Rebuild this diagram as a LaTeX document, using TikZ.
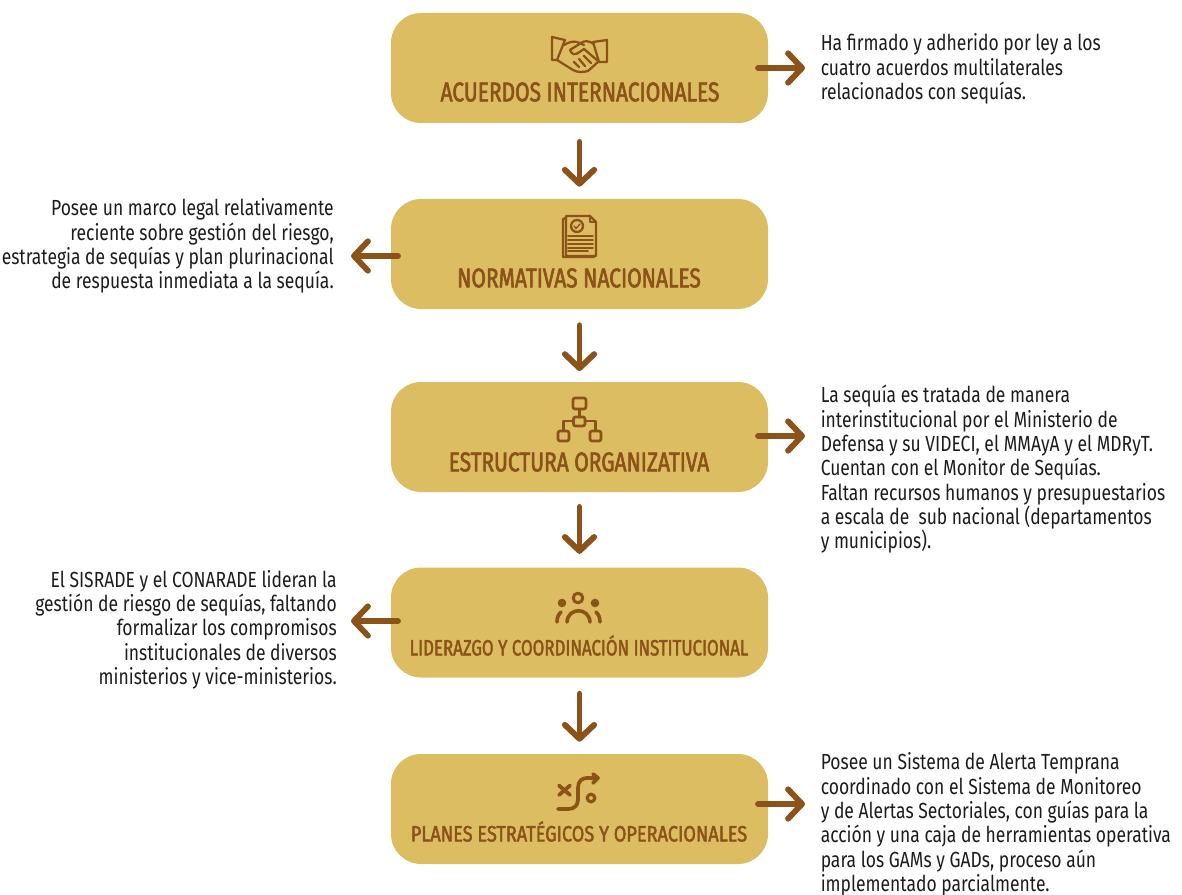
\documentclass[tikz,border=0pt]{standalone}
\usepackage{fontspec}
\usetikzlibrary{arrows.meta}
\setmainfont{Fira Sans}
\newfontfamily\titlefont[FakeStretch=0.77,FakeBold=2.2]{Fira Sans}
\newfontfamily\smalltitlefont[FakeStretch=0.763,FakeBold=2]{Fira Sans}
\newfontfamily\widetitlefont[FakeStretch=0.82,FakeBold=2]{Fira Sans}
\newfontfamily\bodyfont[FakeStretch=0.80]{Fira Sans}
\definecolor{gold}{HTML}{DDBD62}
\definecolor{brown}{HTML}{8B5319}
\definecolor{ink}{HTML}{1C1C1C}
\tikzset{
  panel/.style={fill=gold,draw=none,rounded corners=22.5pt,minimum width=282.75pt,minimum height=82.5pt,inner sep=0pt},
  paneltitle/.style={text=brown,font=\titlefont\fontsize{20.4pt}{22pt}\selectfont,inner sep=0pt},
  paneltitlesmall/.style={text=brown,font=\smalltitlefont\fontsize{16.6pt}{18pt}\selectfont,inner sep=0pt},
  paneltitlewide/.style={text=brown,font=\widetitlefont\fontsize{16.6pt}{18pt}\selectfont,inner sep=0pt},
  note/.style={text=ink,font=\bodyfont\fontsize{16.4pt}{18.25pt}\selectfont,inner sep=0pt},
  flow/.style={draw=brown,line width=4.4pt,line cap=round,-{Straight Barb[length=10.5pt,width=22pt,line width=4.4pt,round]}},
  icon/.style={draw=brown,line width=1.7pt,line join=round,line cap=round,fill=none},
  iconthin/.style={draw=brown,line width=1pt,line cap=round,fill=none},
}
\begin{document}
\begin{tikzpicture}[x=0.75pt,y=-0.75pt]
\useasboundingbox (0,0) rectangle (1182,895);
% panels
\node[panel] (p1) at (579.5,68) {};
\node[panel] (p2) at (579.5,254) {};
\node[panel] (p3) at (579.5,437) {};
\node[panel] (p4) at (579.5,622.5) {};
\node[panel] (p5) at (579.5,809) {};
% titles
\node[paneltitle] (t1) at (580,92) {ACUERDOS INTERNACIONALES};
\node[paneltitle] (t2) at (579,278) {NORMATIVAS NACIONALES};
\node[paneltitle] (t3) at (579,462) {ESTRUCTURA ORGANIZATIVA};
\node[paneltitlesmall] (t4) at (579,645.5) {LIDERAZGO Y COORDINACIÓN INSTITUCIONAL};
\node[paneltitlewide] (t5) at (579,831.5) {PLANES ESTRATÉGICOS Y OPERACIONALES};
% notes
\node[note,anchor=west,align=left] (n1) at (820.5,69) {Ha firmado y adherido por ley a los\\cuatro acuerdos multilaterales\\relacionados con sequías.};
\node[note,anchor=east,align=right] (n2) at (334,246) {Posee un marco legal relativamente\\reciente sobre gestión del riesgo,\\estrategia de sequías y plan plurinacional\\de respuesta inmediata a la sequía.};
\node[note,anchor=west,align=left] (n3) at (820.5,469.5) {La sequía es tratada de manera\\interinstitucional por el Ministerio de\\Defensa y su VIDECI, el MMAyA y el MDRyT.\\Cuentan con el Monitor de Sequías.\\Faltan recursos humanos y presupuestarios\\a escala de\ \ sub nacional (departamentos\\y municipios).};
\node[note,anchor=east,align=right] (n4) at (337,629.5) {El SISRADE y el CONARADE lideran la\\gestión de riesgo de sequías, faltando\\formalizar los compromisos\\institucionales de diversos\\ministerios y vice-ministerios.};
\node[note,anchor=west,align=left] (n5) at (820.5,824.5) {Posee un Sistema de Alerta Temprana\\coordinado con el Sistema de Monitoreo\\y de Alertas Sectoriales, con guías para la\\acción y una caja de herramientas operativa\\para los GAMs y GADs, proceso aún\\implementado parcialmente.};
% connector ends
\coordinate (a1s) at (758,68); \coordinate (a1e) at (805,68);
\coordinate (a2s) at (398,256); \coordinate (a2e) at (351,256);
\coordinate (a3s) at (758,436); \coordinate (a3e) at (805,436);
\coordinate (a4s) at (398,621); \coordinate (a4e) at (351,621);
\coordinate (a5s) at (758,804); \coordinate (a5e) at (805,804);
\draw[flow] (a1s) -- (a1e);
\draw[flow] (a2s) -- (a2e);
\draw[flow] (a3s) -- (a3e);
\draw[flow] (a4s) -- (a4e);
\draw[flow] (a5s) -- (a5e);
\draw[flow,shorten <=14pt,shorten >=9pt] (p1.south) -- (p2.north);
\draw[flow,shorten <=12pt,shorten >=8pt] (p2.south) -- (p3.north);
\draw[flow,shorten <=11pt,shorten >=10pt] (p3.south) -- (p4.north);
\draw[flow,shorten <=12pt,shorten >=9pt] (p4.south) -- (p5.north);
% handshake
\draw[icon] (552,37) -- (565,40) -- (557,60) -- (552,60) -- cycle;
\draw[icon] (607,40) -- (593,42) -- (599,62) -- (607,62) -- cycle;
\draw[icon] (564,45) .. controls (569,42) and (573,41) .. (577,42) -- (584,45);
\draw[icon] (594,44) .. controls (589,41) and (585,40) .. (581,43) -- (570,50) .. controls (572,55) and (575,55) .. (578,53) -- (584,49) -- (598,61);
\draw[icon] (557,60) -- (573,70) .. controls (578,73) and (584,72) .. (588,71) -- (598,62);
\draw[icon] (574,62) -- (579,67); \draw[icon] (579,59) -- (585,66); \draw[icon] (584,56) -- (591,63);
% document
\draw[icon] (566,216) -- (590,216) -- (596,222) -- (596,256) -- (566,256) -- cycle;
\draw[icon] (590,216) -- (590,222) -- (596,222);
\draw[icon] (566,218) -- (563,219) -- (563,257) -- (594,257);
\draw[icon] (577,226) circle (6);
\draw[iconthin] (574,226) -- (576,228.5) -- (580,224);
\foreach \yy/\xe in {236/593,240/593,244/593,248/593,251/588} \draw[iconthin,line width=1.2pt] (568,\yy) -- (\xe,\yy);
% org chart
\draw[icon,line width=2pt,rounded corners=1.5pt] (573,398) rectangle (586,409);
\draw[icon,line width=2pt,rounded corners=1.5pt] (573.5,417) rectangle (585,426);
\draw[icon,line width=2pt,rounded corners=1.5pt] (558,431) rectangle (569,441);
\draw[icon,line width=2pt,rounded corners=1.5pt] (590,431) rectangle (601,441);
\draw[icon,line width=2pt] (579.5,409) -- (579.5,417);
\draw[icon,line width=2pt] (573.5,421) -- (563.5,421) -- (563.5,431);
\draw[icon,line width=2pt] (585,421) -- (595.5,421) -- (595.5,431);
% people
\draw[icon,line width=2.3pt] (578,598) circle (4.8);
\fill[brown] (562,603) circle (4.3);
\fill[brown] (595,603) circle (4.3);
\draw[icon,line width=2.7pt] (567,622) .. controls (568,607) and (589,607) .. (590,622);
\draw[icon,line width=2.7pt] (557,622) .. controls (557,618) and (558,615) .. (561,612);
\draw[icon,line width=2.7pt] (600,622) .. controls (600,618) and (599,615) .. (596,612);
% strategy
\draw[icon,line width=2.8pt] (559,785.5) -- (570,795);
\draw[icon,line width=2.8pt] (570,785.5) -- (559,795);
\draw[icon,line width=2.8pt] (558,809) -- (568,809) .. controls (575,809) and (578,805) .. (578,799) -- (578,788) .. controls (578,781) and (582,778) .. (587,778) -- (597,778);
\draw[icon,line width=2.8pt] (593,774) -- (598,778) -- (593,783);
\draw[icon,line width=2.4pt] (591,798) circle (3.8);
\end{tikzpicture}
\end{document}
